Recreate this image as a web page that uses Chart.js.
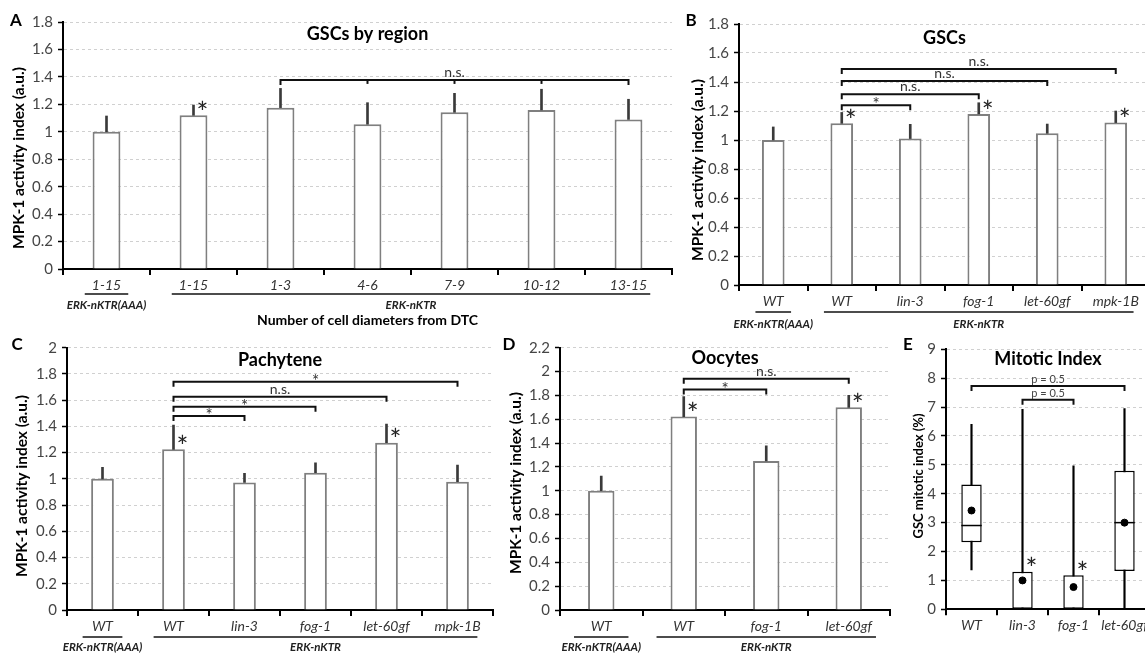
<!DOCTYPE html>
<html><head><meta charset="utf-8">
<script src="https://cdn.jsdelivr.net/npm/chart.js@4.4.1/dist/chart.umd.min.js"></script>
<style>
html,body{margin:0;padding:0;background:#fff;}
body{width:1145px;height:653px;overflow:hidden;position:relative;}
canvas{position:absolute;}
</style>
</head><body>
<canvas id="cA"></canvas><canvas id="cB"></canvas><canvas id="cC"></canvas><canvas id="cD"></canvas><canvas id="cE"></canvas>
<script>
// ---------------- DATA ----------------
const aCategories = ['1-15','1-15','1-3','4-6','7-9','10-12','13-15'];
const aValues = [1.00,1.12,1.176,1.055,1.142,1.159,1.09];
const aErrors = [0.115,0.075,0.14,0.157,0.138,0.151,0.147];
const aStars = [1];
const aBrackets = [[2,6,1.378,'n.s.']];
const aGroups = [[0,0,'ERK-nKTR(AAA)'],[1,6,'ERK-nKTR']];

const bCategories = ['WT','WT','lin-3','fog-1','let-60gf','mpk-1B'];
const bValues = [1.00,1.115,1.01,1.18,1.046,1.12];
const bErrors = [0.09,0.075,0.098,0.077,0.064,0.08];
const bStars = [1,3,5];
const bBrackets = [[1,2,1.24,'*'],[1,3,1.315,'n.s.'],[1,4,1.407,'n.s.'],[1,5,1.49,'n.s.']];
const bGroups = [[0,0,'ERK-nKTR(AAA)'],[1,5,'ERK-nKTR']];

const cCategories = ['WT','WT','lin-3','fog-1','let-60gf','mpk-1B'];
const cValues = [1.00,1.225,0.973,1.047,1.275,0.978];
const cErrors = [0.088,0.185,0.069,0.076,0.143,0.127];
const cStars = [1,4];
const cBrackets = [[1,2,1.48,'*'],[1,3,1.55,'*'],[1,4,1.626,'n.s.'],[1,5,1.74,'*']];
const cGroups = [[0,0,'ERK-nKTR(AAA)'],[1,5,'ERK-nKTR']];

const dCategories = ['WT','WT','fog-1','let-60gf'];
const dValues = [1.00,1.622,1.25,1.70];
const dErrors = [0.124,0.168,0.126,0.10];
const dStars = [1,3];
const dBrackets = [[1,2,1.85,'*'],[1,3,1.94,'n.s.']];
const dGroups = [[0,0,'ERK-nKTR(AAA)'],[1,3,'ERK-nKTR']];

const eCategories = ['WT','lin-3','fog-1','let-60gf'];
const eQ1 = [2.32,0,0,1.33];
const eQ3 = [4.32,1.3,1.18,4.8];
const eMedian = [2.9,null,null,3.0];
const eMean = [3.42,1.0,0.77,3.0];
const eWhiskerLow = [1.36,0,0,0];
const eWhiskerHigh = [6.4,6.92,4.97,6.95];
const eStars = [1,2];
const eBrackets = [[0,3,7.73,'p = 0.5'],[1,2,7.25,'p = 0.5']];

// ---------------- STYLE / LAYOUT ----------------
const FONT = 'Lato, "Open Sans", sans-serif';

function fmt(v){ return String(+(+v).toFixed(1)); }

function txt(ctx, s, x, y, font, color, align, base){
  ctx.font = font; ctx.fillStyle = color; ctx.textAlign = align || 'center';
  ctx.textBaseline = base || 'middle'; ctx.fillText(s, x, y);
}

function annotPlugin(p){
  return {
    id: 'annot' + p.id,
    afterDraw(chart){
      const ctx = chart.ctx, xs = chart.scales.x, ys = chart.scales.y, ca = chart.chartArea;
      const L = p.frame.left, T = p.frame.top;
      ctx.save();
      txt(ctx, p.letter, p.letterPos[0]-L, p.letterPos[1]-T, 'bold 17px '+FONT, '#000');
      txt(ctx, p.title, (ca.left+ca.right)/2, ca.top + p.titleDy, 'bold 18px '+FONT, '#000');
      ctx.save();
      ctx.translate(p.yTitle[0]-L, p.yTitle[1]-T);
      ctx.rotate(-Math.PI/2);
      txt(ctx, p.yTitleText, 0, 0, 'bold '+p.yTitleSize+'px '+FONT, '#000');
      ctx.restore();
      p.stars.forEach(i => {
        const x = xs.getPixelForValue(i) + 9;
        const y = ys.getPixelForValue(p.starBase[i]) - 8;
        txt(ctx, '*', x, y + 0.56*28, '28px '+FONT, '#222', 'center', 'alphabetic');
      });
      p.brackets.forEach(([a,b,v,lab]) => {
        const x1 = xs.getPixelForValue(a), x2 = xs.getPixelForValue(b), y = ys.getPixelForValue(v);
        ctx.strokeStyle = '#111'; ctx.lineWidth = 2; ctx.lineCap = 'butt';
        ctx.beginPath();
        ctx.moveTo(x1, y+5); ctx.lineTo(x1, y); ctx.lineTo(x2, y); ctx.lineTo(x2, y+5);
        ctx.stroke();
        if (p.midTicks) {
          for (let k = a+1; k < b; k++) {
            const xm = xs.getPixelForValue(k);
            ctx.beginPath(); ctx.moveTo(xm, y); ctx.lineTo(xm, y+4); ctx.stroke();
          }
        }
        const xm = (x1+x2)/2;
        if (lab === '*') txt(ctx, '*', xm, y + 0.42*17 - 2, '17px '+FONT, '#333', 'center', 'alphabetic');
        else if (lab.startsWith('p')) txt(ctx, lab, xm, y - 3, '11px '+FONT, '#444', 'center', 'alphabetic');
        else txt(ctx, lab, xm, y - 3, '14px '+FONT, '#333', 'center', 'alphabetic');
      });
      if (p.groups) {
        const cw = xs.getPixelForValue(1) - xs.getPixelForValue(0);
        p.groups.forEach(([a,b,lab]) => {
          const gx1 = xs.getPixelForValue(a) - p.ext*cw, gx2 = xs.getPixelForValue(b) + p.ext*cw;
          const uy = ca.bottom + p.ul;
          ctx.strokeStyle = '#111'; ctx.lineWidth = 1.5;
          ctx.beginPath(); ctx.moveTo(gx1, uy); ctx.lineTo(gx2, uy); ctx.stroke();
          txt(ctx, lab, (gx1+gx2)/2, ca.bottom + p.gl, 'italic bold 11.5px '+FONT, '#222');
        });
      }
      if (p.xTitle) txt(ctx, p.xTitle, (ca.left+ca.right)/2, ca.bottom + p.xTitleDy, 'bold 14px '+FONT, '#000');
      if (p.extra) p.extra(chart, ctx);
      ctx.restore();
    }
  };
}

function setupCanvas(p){
  const c = document.getElementById(p.id);
  c.width = p.frame.w; c.height = p.frame.h;
  c.style.left = p.frame.left + 'px'; c.style.top = p.frame.top + 'px';
  c.style.width = p.frame.w + 'px'; c.style.height = p.frame.h + 'px';
  return c;
}

function scalesFor(p){
  const yw = p.axis.x - p.frame.left;
  const xh = p.frame.top + p.frame.h - p.axis.zero;
  return {
    x: {
      offset: true,
      grid: { offset: true, drawOnChartArea: false, drawTicks: true, tickLength: 6, color: '#000', tickColor: '#000', tickWidth: 2, lineWidth: 2 },
      border: { display: true, color: '#000', width: 2 },
      ticks: { color: '#333', font: { family: FONT, size: 14, style: 'italic' }, padding: 2, maxRotation: 0, minRotation: 0, autoSkip: false },
      afterFit: s => { s.height = xh; }
    },
    y: {
      min: 0, max: p.max,
      ticks: { stepSize: p.step, color: '#454545', font: { family: FONT, size: 15 }, padding: 5, callback: v => fmt(v) },
      grid: { color: '#d0d0d0', lineWidth: 1, tickColor: '#000', tickLength: 5, tickWidth: 1.5, drawTicks: true },
      border: { display: true, color: '#000', width: 2, dash: [3,3] },
      afterFit: s => { s.width = yw; }
    }
  };
}

function layoutFor(p){
  return { padding: { top: p.axis.top - p.frame.top, right: p.frame.left + p.frame.w - p.axis.right, left: 0, bottom: 0 } };
}

function barPanel(p){
  const c = setupCanvas(p);
  p.starBase = p.values;
  new Chart(c, {
    type: 'bar',
    data: {
      labels: p.categories,
      datasets: [
        { data: p.values.map((v,i) => [v, v + p.errors[i]]), backgroundColor: '#3a3a3a', barThickness: 2, grouped: false, order: 1 },
        { data: p.values, backgroundColor: '#fff', borderColor: '#7f7f7f', borderWidth: 2, barPercentage: p.barPct, categoryPercentage: 1, grouped: false, order: 2 }
      ]
    },
    options: {
      responsive: false, animation: false, devicePixelRatio: 1,
      layout: layoutFor(p),
      plugins: { legend: { display: false }, tooltip: { enabled: false }, title: { display: false } },
      scales: scalesFor(p)
    },
    plugins: [annotPlugin(p)]
  });
}

const YT = 'MPK-1 activity index (a.u.)';

barPanel({ id: 'cA', frame: { left: 0, top: 0, w: 680, h: 330 }, axis: { x: 63, top: 22, zero: 269, right: 672 },
  max: 1.8, step: 0.2, categories: aCategories, values: aValues, errors: aErrors, stars: aStars, brackets: aBrackets, midTicks: true,
  groups: aGroups, ext: 0.25, ul: 25, gl: 36, barPct: 0.32,
  letter: 'A', letterPos: [16, 21], title: 'GSCs by region', titleDy: 12,
  yTitle: [19, 158], yTitleText: YT, yTitleSize: 15.5,
  xTitle: 'Number of cell diameters from DTC', xTitleDy: 51 });

barPanel({ id: 'cB', frame: { left: 680, top: 0, w: 475, h: 335 }, axis: { x: 739, top: 24, zero: 285, right: 1150 },
  max: 1.8, step: 0.2, categories: bCategories, values: bValues, errors: bErrors, stars: bStars, brackets: bBrackets,
  groups: bGroups, ext: 0.26, ul: 27, gl: 39, barPct: 0.33,
  letter: 'B', letterPos: [691, 21], title: 'GSCs', titleDy: 14,
  yTitle: [698, 170], yTitleText: YT, yTitleSize: 15.5 });

barPanel({ id: 'cC', frame: { left: 0, top: 332, w: 498, h: 321 }, axis: { x: 67, top: 347.7, zero: 610, right: 493 },
  max: 2, step: 0.2, categories: cCategories, values: cValues, errors: cErrors, stars: cStars, brackets: cBrackets,
  groups: cGroups, ext: 0.28, ul: 27, gl: 37, barPct: 0.32,
  letter: 'C', letterPos: [17, 345], title: 'Pachytene', titleDy: 12,
  yTitle: [22, 486], yTitleText: YT, yTitleSize: 15.5 });

barPanel({ id: 'cD', frame: { left: 498, top: 332, w: 398, h: 321 }, axis: { x: 560, top: 347.7, zero: 610, right: 890 },
  max: 2.2, step: 0.2, categories: dCategories, values: dValues, errors: dErrors, stars: dStars, brackets: dBrackets,
  groups: dGroups, ext: 0.33, ul: 27, gl: 37, barPct: 0.32,
  letter: 'D', letterPos: [509, 345], title: 'Oocytes', titleDy: 10,
  yTitle: [516, 483], yTitleText: YT, yTitleSize: 15.5 });

(function(){
  const p = { id: 'cE', frame: { left: 896, top: 332, w: 259, h: 321 }, axis: { x: 946, top: 349.3, zero: 609.3, right: 1150 },
    max: 9, step: 1, stars: eStars, brackets: eBrackets,
    letter: 'E', letterPos: [908, 345], title: 'Mitotic Index', titleDy: 10,
    yTitle: [919, 476], yTitleText: 'GSC mitotic index (%)', yTitleSize: 13 };
  p.starBase = eQ3;
  p.extra = (chart, ctx) => {
    const xs = chart.scales.x, ys = chart.scales.y;
    const meta = chart.getDatasetMeta(1);
    ctx.strokeStyle = '#000'; ctx.lineWidth = 1.5;
    eMedian.forEach((m, i) => {
      if (m === null) return;
      const el = meta.data[i];
      const w = el.width, x = xs.getPixelForValue(i), y = ys.getPixelForValue(m);
      ctx.beginPath(); ctx.moveTo(x - w/2, y); ctx.lineTo(x + w/2, y); ctx.stroke();
    });
  };
  const c = setupCanvas(p);
  new Chart(c, {
    type: 'bar',
    data: {
      labels: eCategories,
      datasets: [
        { type: 'line', data: eMean, showLine: false, pointRadius: 3.5, pointBackgroundColor: '#000', pointBorderColor: '#000', order: 1 },
        { data: eQ1.map((q, i) => [q, eQ3[i]]), backgroundColor: '#fff', borderColor: '#000', borderWidth: 1.5, borderSkipped: false, barPercentage: 0.4, categoryPercentage: 1, grouped: false, order: 2 },
        { data: eWhiskerLow.map((lo, i) => [lo, eWhiskerHigh[i]]), backgroundColor: '#000', barThickness: 1.5, grouped: false, order: 3 }
      ]
    },
    options: {
      responsive: false, animation: false, devicePixelRatio: 1,
      layout: layoutFor(p),
      plugins: { legend: { display: false }, tooltip: { enabled: false } },
      scales: scalesFor(p)
    },
    plugins: [annotPlugin(p)]
  });
})();
</script>
</body></html>
